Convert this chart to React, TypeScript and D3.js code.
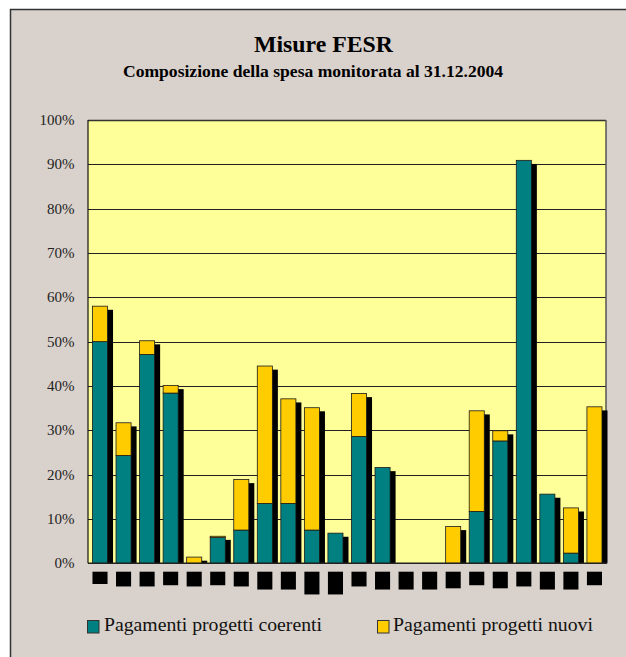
import React from "react";
import * as d3 from "d3";

const categories = ["c1","c2","c3","c4","c5","c6","c7","c8","c9","c10","c11","c12","c13","c14","c15","c16","c17","c18","c19","c20","c21","c22"];
const pagamentiCoerenti = [50.0, 24.3, 47.1, 38.4, 0, 5.8, 7.5, 13.5, 13.5, 7.5, 6.8, 28.6, 21.6, 0, 0, 0, 11.7, 27.6, 90.9, 15.6, 2.3, 0];
const pagamentiNuovi = [8.0, 7.4, 3.1, 1.7, 1.4, 0.3, 11.4, 31.0, 23.6, 27.6, 0, 9.7, 0, 0, 0, 8.3, 22.7, 2.3, 0, 0, 10.2, 35.3];
const yTicks = [0, 10, 20, 30, 40, 50, 60, 70, 80, 90, 100];
const redactedLabelLines = [1, 1.2, 1.2, 1.1, 1.2, 1.1, 1.2, 1.45, 1.45, 1.85, 1.85, 1.2, 1.45, 1.45, 1.45, 1.35, 1.1, 1.35, 1.2, 1.45, 1.45, 1.1];
const seriesNames = ["Pagamenti progetti coerenti", "Pagamenti progetti nuovi"];

const W = 626, H = 657;
const BG = "#d9d1cb";
const PLOT_BG = "#ffff99";
const TEAL = "#008080";
const GOLD = "#ffcc00";
const FONT = "'Liberation Serif', 'Times New Roman', serif";

export default function App() {
  const left = 88, right = 606, top = 120, bottom = 563.3;
  const x = d3.scaleBand<string>().domain(categories).range([left, right]).padding(0);
  const y = d3.scaleLinear().domain([0, 100]).range([bottom, top]);
  const bw = x.bandwidth() * 0.64;
  const boff = x.bandwidth() * 0.19;
  const sdx = 5.5, sdy = 3.6;

  const rows = categories.map((c, i) => ({
    c,
    a: pagamentiCoerenti[i],
    b: pagamentiNuovi[i],
    total: pagamentiCoerenti[i] + pagamentiNuovi[i],
    lab: redactedLabelLines[i],
  }));

  return (
    <svg width={W} height={H} style={{ position: "absolute", left: 0, top: 0, display: "block" }}>
      <defs>
        <clipPath id="plotclip">
          <rect x={left} y={top - 10} width={right - left + 10} height={bottom - top + 10} />
        </clipPath>
      </defs>
      <rect x={0} y={0} width={W} height={H} fill="#ffffff" />
      <rect x={10.5} y={9.5} width={W} height={H} fill={BG} stroke="#333" strokeWidth={1.5} />

      <text x={254} y={52} fontFamily={FONT} fontWeight="bold" fontSize={24} fill="#000" textLength={139} lengthAdjust="spacingAndGlyphs">Misure FESR</text>
      <text x={123} y={77} fontFamily={FONT} fontWeight="bold" fontSize={16} fill="#000" textLength={380} lengthAdjust="spacingAndGlyphs">Composizione della spesa monitorata al 31.12.2004</text>

      <rect x={left} y={top} width={right - left} height={bottom - top} fill={PLOT_BG} />
      {yTicks.map((t) => (
        <g key={t}>
          {t > 0 && t < 100 && (
            <line x1={left} x2={right} y1={Math.round(y(t)) + 0.5} y2={Math.round(y(t)) + 0.5} stroke="#222" strokeWidth={1} />
          )}
          <text x={74.5} y={y(t) + 5} textAnchor="end" fontFamily={FONT} fontSize={15} fill="#222">{t}%</text>
        </g>
      ))}
      <line x1={left} x2={right} y1={top + 0.5} y2={top + 0.5} stroke="#333" strokeWidth={1.5} />
      <line x1={right} x2={right} y1={top} y2={bottom} stroke="#555" strokeWidth={1.5} />

      <g clipPath="url(#plotclip)">
        {rows.filter((r) => r.total > 0).map((r) => (
          <rect key={"s" + r.c} x={(x(r.c) as number) + boff + sdx} y={y(r.total) + sdy} width={bw} height={bottom - y(r.total)} fill="#000" />
        ))}
      </g>
      {rows.map((r) => {
        const bx = (x(r.c) as number) + boff;
        return (
          <g key={r.c}>
            {r.a > 0 && (
              <rect x={bx} y={y(r.a)} width={bw} height={bottom - y(r.a)} fill={TEAL} stroke="#1a1a1a" strokeWidth={0.8} />
            )}
            {r.b > 0 && (
              <rect x={bx} y={y(r.total)} width={bw} height={y(r.a) - y(r.total)} fill={GOLD} stroke="#1a1a1a" strokeWidth={0.8} />
            )}
            <rect x={bx} y={571.7} width={bw} height={12.3 * r.lab} fill="#000" />
          </g>
        );
      })}
      <line x1={left} x2={left} y1={top} y2={bottom} stroke="#111" strokeWidth={1.2} />
      <line x1={left} x2={right + 1} y1={bottom} y2={bottom} stroke="#222" strokeWidth={1.6} />

      <g>
        <rect x={87.5} y={620.5} width={11.5} height={12.5} fill={TEAL} stroke="#333" strokeWidth={1} />
        <text x={104} y={631} fontFamily={FONT} fontSize={18} fill="#111" textLength={218} lengthAdjust="spacingAndGlyphs">{seriesNames[0]}</text>
        <rect x={377.5} y={620.5} width={11.5} height={12.5} fill={GOLD} stroke="#333" strokeWidth={1} />
        <text x={393} y={631} fontFamily={FONT} fontSize={18} fill="#111" textLength={200} lengthAdjust="spacingAndGlyphs">{seriesNames[1]}</text>
      </g>
    </svg>
  );
}
